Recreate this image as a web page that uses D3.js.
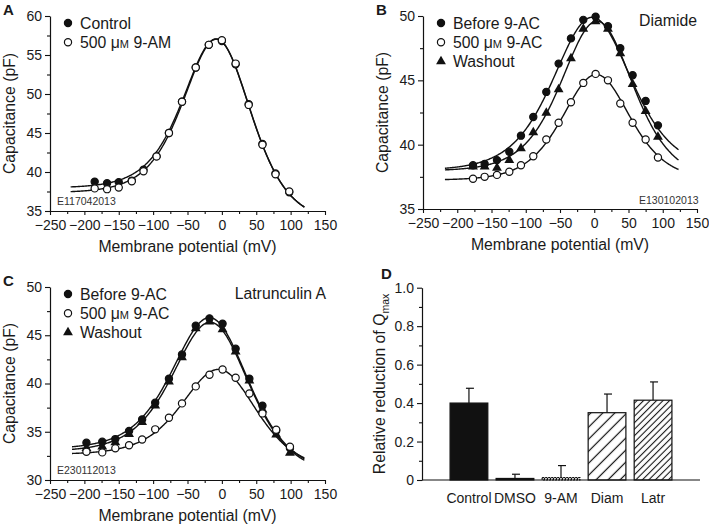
<!DOCTYPE html>
<html>
<head>
<meta charset="utf-8">
<script src="https://cdn.jsdelivr.net/npm/d3@7"></script>
<style>
  body { margin: 0; background: #fff; }
  svg text { font-family: "Liberation Sans", Arial, sans-serif; fill: #1a1a1a; }
  .tick text { font-size: 14px; }
  .title { font-size: 15.8px; }
  .legend { font-size: 15.8px; }
  .cell { font-size: 10.5px; fill: #333; }
  .letter { font-size: 15px; font-weight: bold; }
</style>
</head>
<body>
<svg id="fig" width="709" height="530"></svg>
<script>
// ---------- data ----------
const potentialTicks = [-250, -200, -150, -100, -50, 0, 50, 100, 150];

// panel A (E117042013)
const aVolt    = [-185, -167, -150, -131, -114, -95, -77, -58, -38, -19, 0, 20, 39, 59, 78, 98];
const aControl = [38.76, 38.55, 38.7, 38.9, 40.3, 42.0, 45.0, 49.0, 53.4, 56.3, 56.8, 53.8, 48.7, 43.6, 39.8, 37.4];
const aAM      = [37.9, 37.8, 38.0, 38.8, 40.1, 42.0, 45.0, 49.0, 53.4, 56.3, 56.9, 53.9, 48.6, 43.5, 39.7, 37.5];
// fitted curves: [Clin, Csa, peak NLC, Vh, slope]
const aFitControl = [33.57, 4.4, 21.23, -5, 33];
const aFitAM      = [33.55, 3.81, 21.54, -5, 33];

// panel B (Diamide, E130102013)
const bVolt   = [-177, -160, -142, -124, -107, -89, -70, -52, -34, -16, 2, 20, 38, 56, 75, 93];
const bBefore = [38.4, 38.5, 38.8, 39.45, 40.7, 42.15, 44.1, 46.3, 48.26, 49.7, 49.95, 49.2, 47.5, 45.4, 43.4, 41.5];
const bAC     = [37.35, 37.5, 37.65, 37.9, 38.4, 39.1, 40.4, 41.7, 43.3, 44.8, 45.5, 45.0, 43.2, 41.7, 40.4, 39.0];
const bWash   = [38.3, 38.3, 38.2, 38.8, 39.7, 40.95, 42.46, 44.3, 46.7, 49.0, 49.58, 49.0, 47.1, 44.7, 42.6, 40.6];
const bFitBefore = [38.0, 0, 11.9, -3, 38];
const bFitAC     = [37.25, 0, 8.2, 3, 33];
const bFitWash   = [37.24, 0.72, 12.0, 5, 35];

// panel C (Latrunculin A, E230112013)
const cVolt   = [-197, -174, -155, -135, -116, -97, -77, -58, -38, -18, 1, 20, 40, 59, 79, 99];
const cBefore = [33.86, 33.96, 34.24, 35.07, 36.28, 38.0, 40.5, 43.0, 46.0, 46.75, 46.2, 43.6, 40.5, 37.7, 35.1, 33.3];
const cAC     = [32.93, 32.86, 33.28, 33.6, 34.2, 35.25, 36.45, 37.94, 39.7, 40.9, 41.45, 40.6, 38.97, 36.9, 35.2, 33.45];
const cWash   = [33.3, 33.45, 33.9, 34.75, 36.0, 37.7, 40.2, 42.7, 45.7, 46.4, 45.6, 43.3, 40.3, 37.3, 34.7, 32.8];
const cFitBefore = [30.67, 2.54, 14.86, -15, 37];
const cFitAC     = [31.03, 1.63, 9.6, -2, 36];
const cFitWash   = [30.5, 2.45, 14.6, -14, 37];

// panel D
const dGroups = ['Control', 'DMSO', '9-AM', 'Diam', 'Latr'];
const dMean   = [0.40, 0.008, 0.012, 0.35, 0.415];
const dSem    = [0.077, 0.022, 0.063, 0.097, 0.095];
const dTicks  = [0, 0.2, 0.4, 0.6, 0.8, 1.0];

// ---------- drawing ----------
const svg = d3.select('#fig');
const defs = svg.append('defs');

function nlc(p, v) {
  const [clin, csa, amp, vh, w] = p;
  const e = Math.exp((v - vh) / w);
  return clin + amp * 4 * e / ((1 + e) * (1 + e)) + csa / (1 + e);
}

function marker(sel, kind) {
  if (kind === 'tri') {
    sel.append('path')
      .attr('d', d3.symbol().type(d3.symbolTriangle).size(42)())
      .attr('fill', '#111');
  } else {
    sel.append('circle').attr('r', 3.6)
      .attr('fill', kind === 'open' ? '#fff' : '#111')
      .attr('stroke', '#111').attr('stroke-width', 1.2);
  }
}

function styleAxis(s) {
  s.select('.domain').attr('stroke', '#111').attr('stroke-width', 1.2);
  s.selectAll('.tick line').attr('stroke', '#111').attr('stroke-width', 1.1);
}

function cvPanel(cfg) {
  const x = d3.scaleLinear().domain([-250, 150]).range([cfg.left, cfg.right]);
  const y = d3.scaleLinear().domain(cfg.yDomain).range([cfg.bottom, cfg.top]);
  const g = svg.append('g');

  // minor ticks
  g.append('g').attr('transform', `translate(0,${cfg.bottom})`)
    .call(d3.axisBottom(x).tickValues(d3.range(-225, 150, 50)).tickSize(3).tickFormat(''))
    .call(s => s.select('.domain').remove()).call(styleAxis);
  g.append('g').attr('transform', `translate(${cfg.left},0)`)
    .call(d3.axisLeft(y).tickValues(cfg.yMinor).tickSize(3).tickFormat(''))
    .call(s => s.select('.domain').remove()).call(styleAxis);

  g.append('g').attr('transform', `translate(0,${cfg.bottom})`)
    .call(d3.axisBottom(x).tickValues(potentialTicks).tickSize(4).tickSizeOuter(0).tickPadding(5))
    .call(styleAxis);
  g.append('g').attr('transform', `translate(${cfg.left},0)`)
    .call(d3.axisLeft(y).tickValues(cfg.yTicks).tickSize(5).tickSizeOuter(0).tickPadding(3))
    .call(styleAxis);

  g.append('text').attr('class', 'title').attr('text-anchor', 'middle')
    .attr('x', (cfg.left + cfg.right) / 2).attr('y', cfg.bottom + 41)
    .text('Membrane potential (mV)');
  g.append('text').attr('class', 'title').attr('text-anchor', 'middle')
    .attr('transform', `translate(${cfg.left - 35},${(cfg.top + cfg.bottom) / 2}) rotate(-90)`)
    .text('Capacitance (pF)');

  const line = d3.line().x(d => x(d[0])).y(d => y(d[1]));
  const vs = d3.range(cfg.fitRange[0], cfg.fitRange[1] + 0.5, 1);
  cfg.series.forEach(s => {
    g.append('path').attr('d', line(vs.map(v => [v, nlc(s.fit, v)])))
      .attr('fill', 'none').attr('stroke', '#111').attr('stroke-width', 1.4);
  });
  cfg.series.forEach(s => {
    cfg.volt.forEach((v, i) => {
      g.append('g').attr('transform', `translate(${x(v)},${y(s.values[i])})`).call(marker, s.kind);
    });
  });

  // legend
  cfg.series.slice().sort((a, b) => a.order - b.order).forEach((s, i) => {
    const ly = cfg.top + 7 + i * 19.2;
    g.append('g').attr('transform', `translate(${cfg.left + 18},${ly})`).call(marker, s.kind);
    const t = g.append('text').attr('class', 'legend').attr('x', cfg.left + 30).attr('y', ly + 5.5);
    s.label.forEach(part => {
      const ts = t.append('tspan').text(part[0]);
      if (part[1]) ts.style('font-size', '11px');
    });
  });

  g.append('text').attr('class', 'letter').attr('x', cfg.left - 47).attr('y', cfg.top - 1).text(cfg.letter);
  g.append('text').attr('class', 'cell').attr('x', cfg.cellX).attr('y', cfg.cellY).text(cfg.cell);
  if (cfg.note) {
    g.append('text').attr('class', 'legend').attr('text-anchor', 'end')
      .attr('x', cfg.noteX).attr('y', cfg.noteY).text(cfg.note);
  }
}

cvPanel({
  left: 50, right: 325, top: 16, bottom: 211, yDomain: [35, 60],
  yTicks: [35, 40, 45, 50, 55, 60], yMinor: [37.5, 42.5, 47.5, 52.5, 57.5],
  volt: aVolt, fitRange: [-220, 120], letter: 'A',
  cell: 'E117042013', cellX: 57, cellY: 205,
  series: [
    { values: aControl, fit: aFitControl, kind: 'filled', order: 0, label: [['Control']] },
    { values: aAM, fit: aFitAM, kind: 'open', order: 1, label: [['500 μ'], ['M', true], [' 9-AM']] }
  ]
});

cvPanel({
  left: 423, right: 697, top: 16, bottom: 209, yDomain: [35, 50],
  yTicks: [35, 40, 45, 50], yMinor: [37.5, 42.5, 47.5],
  volt: bVolt, fitRange: [-218, 123], letter: 'B',
  cell: 'E130102013', cellX: 639, cellY: 204,
  note: 'Diamide', noteX: 697, noteY: 26,
  series: [
    { values: bAC, fit: bFitAC, kind: 'open', order: 1, label: [['500 μ'], ['M', true], [' 9-AC']] },
    { values: bWash, fit: bFitWash, kind: 'tri', order: 2, label: [['Washout']] },
    { values: bBefore, fit: bFitBefore, kind: 'filled', order: 0, label: [['Before 9-AC']] }
  ]
});

cvPanel({
  left: 50, right: 325, top: 287, bottom: 480, yDomain: [30, 50],
  yTicks: [30, 35, 40, 45, 50], yMinor: [32.5, 37.5, 42.5, 47.5],
  volt: cVolt, fitRange: [-218, 120], letter: 'C',
  cell: 'E230112013', cellX: 57, cellY: 474,
  note: 'Latrunculin A', noteX: 326, noteY: 299,
  series: [
    { values: cBefore, fit: cFitBefore, kind: 'filled', order: 0, label: [['Before 9-AC']] },
    { values: cWash, fit: cFitWash, kind: 'tri', order: 2, label: [['Washout']] },
    { values: cAC, fit: cFitAC, kind: 'open', order: 1, label: [['500 μ'], ['M', true], [' 9-AC']] }
  ]
});

// ---------- panel D ----------
function hatch(id, gap, angle, w) {
  const p = defs.append('pattern').attr('id', id).attr('patternUnits', 'userSpaceOnUse')
    .attr('width', gap).attr('height', gap).attr('patternTransform', `rotate(${angle})`);
  p.append('rect').attr('width', gap).attr('height', gap).attr('fill', '#fff');
  p.append('line').attr('x1', gap / 2).attr('x2', gap / 2).attr('y1', 0).attr('y2', gap)
    .attr('stroke', '#111').attr('stroke-width', w);
}
hatch('hatchWide', 8.5, 45, 1.2);
hatch('hatchFine', 4.6, 45, 1.1);
hatch('dots', 3, 0, 1);

const dFill = ['#111', '#111', 'url(#dots)', 'url(#hatchWide)', 'url(#hatchFine)'];

const xD = d3.scaleBand().domain(dGroups).range([422, 700]).paddingInner(0.18).paddingOuter(0.61);
const yD = d3.scaleLinear().domain([0, 1]).range([480, 287.7]);
const gD = svg.append('g');

gD.append('g').attr('transform', 'translate(422,0)')
  .call(d3.axisLeft(yD).tickValues(d3.range(0.1, 1, 0.2)).tickSize(3).tickFormat(''))
  .call(s => s.select('.domain').remove()).call(styleAxis);
gD.append('g').attr('transform', 'translate(422,0)')
  .call(d3.axisLeft(yD).tickValues(dTicks).tickSize(5).tickSizeOuter(0).tickPadding(3)
    .tickFormat(d => d === 0 ? '0' : d3.format('.1f')(d)))
  .call(styleAxis);

dGroups.forEach((k, i) => {
  const bx = xD(k), bw = xD.bandwidth();
  const top = yD(dMean[i] + dSem[i]);
  gD.append('line').attr('x1', bx + bw / 2).attr('x2', bx + bw / 2)
    .attr('y1', yD(dMean[i])).attr('y2', top).attr('stroke', '#111').attr('stroke-width', 1.2);
  gD.append('line').attr('x1', bx + bw / 2 - 3).attr('x2', bx + bw / 2 + 5)
    .attr('y1', top).attr('y2', top).attr('stroke', '#111').attr('stroke-width', 1.2);
  gD.append('rect').attr('x', bx).attr('width', bw)
    .attr('y', yD(dMean[i])).attr('height', yD(0) - yD(dMean[i]))
    .attr('fill', dFill[i]).attr('stroke', '#111').attr('stroke-width', 1.2)
    .attr('stroke-dasharray', i === 2 ? '2,1' : null);
  gD.append('text').attr('x', bx + bw / 2).attr('y', 503).attr('text-anchor', 'middle')
    .style('font-size', '14px').text(k);
});

// x baseline
gD.append('line').attr('x1', 422).attr('x2', 700).attr('y1', yD(0)).attr('y2', yD(0))
  .attr('stroke', '#111').attr('stroke-width', 1.2);

const yt = gD.append('text').attr('class', 'title').attr('text-anchor', 'middle')
  .attr('transform', `translate(385,384) rotate(-90)`);
yt.append('tspan').text('Relative reduction of Q');
yt.append('tspan').attr('dy', 4).style('font-size', '10.5px').text('max');

gD.append('text').attr('class', 'letter').attr('x', 381).attr('y', 279).text('D');
</script>
</body>
</html>
